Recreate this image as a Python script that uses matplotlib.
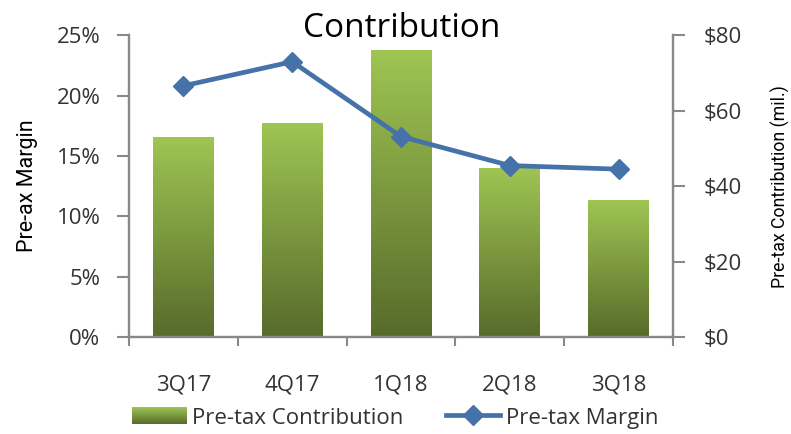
import numpy as np
import matplotlib
matplotlib.use("Agg")
import matplotlib.pyplot as plt
from matplotlib.colors import LinearSegmentedColormap
from matplotlib.legend_handler import HandlerBase
from matplotlib.image import BboxImage
from matplotlib.transforms import Bbox, TransformedBbox
from matplotlib.lines import Line2D
from matplotlib.patches import Patch

# ── Data ──────────────────────────────────────────────────────────────
quarters = ["3Q17", "4Q17", "1Q18", "2Q18", "3Q18"]
contribution = [53.0, 56.7, 76.0, 44.8, 36.3]      # $ mil (right axis)
margin = [20.8, 22.8, 16.6, 14.2, 13.9]            # % (left axis)
pct_ticks = [0, 5, 10, 15, 20, 25]
usd_ticks = [0, 20, 40, 60, 80]

FONT = "Open Sans"
NARROW = ["Roboto", "DejaVu Sans"]
plt.rcParams["font.family"] = [FONT, "DejaVu Sans"]

GREEN_TOP = "#9fc553"
GREEN_BOT = "#576b2b"
BLUE = "#4572a9"
GRAY = "#898989"
TXT = "#333333"

cmap = LinearSegmentedColormap.from_list("grn", [GREEN_BOT, GREEN_TOP])
grad = np.linspace(0, 1, 256).reshape(-1, 1)


class GradientHandler(HandlerBase):
    """Legend swatch drawn with the same vertical gradient as the bars."""

    def create_artists(self, legend, orig, xdescent, ydescent, width,
                       height, fontsize, trans):
        bb = Bbox.from_bounds(-xdescent, -ydescent, width, height)
        im = BboxImage(TransformedBbox(bb, trans), cmap=cmap,
                       interpolation="bicubic", origin="lower")
        im.set_data(grad)
        return [im]


fig = plt.figure(figsize=(7.91, 4.34), dpi=100)
ax = fig.add_axes([0.163, 0.2235, 0.688, 0.6955])
ax2 = ax.twinx()

x = np.arange(len(quarters))

# bars on right axis, filled with a gradient clipped to each bar
bars = ax2.bar(x, contribution, width=0.56, color="none", edgecolor="none")
for rect in bars:
    x0, w, h = rect.get_x(), rect.get_width(), rect.get_height()
    im = ax2.imshow(grad, cmap=cmap, origin="lower", aspect="auto",
                    extent=[x0, x0 + w, 0, h], interpolation="bicubic",
                    zorder=2)
    im.set_clip_path(rect)
ax2.set_ylim(0, 80)
ax2.set_yticks(usd_ticks)
ax2.set_yticklabels([f"${v}" for v in usd_ticks])

# line on left axis, kept above the bars
ax.set_zorder(ax2.get_zorder() + 1)
ax.patch.set_visible(False)
ax.plot(x, margin, color=BLUE, lw=3.4, marker="D", markersize=10.5,
        markeredgecolor=BLUE, zorder=3)
ax.set_ylim(0, 25)
ax.set_yticks(pct_ticks)
ax.set_yticklabels([f"{v}%" for v in pct_ticks])
ax.set_xlim(-0.5, len(quarters) - 0.5)
ax2.set_xlim(-0.5, len(quarters) - 0.5)

ax.set_xticks(x)
ax.set_xticklabels(quarters)
ax.set_xticks(np.arange(-0.5, len(quarters)), minor=True)
ax.tick_params(axis="x", which="major", length=0, pad=27, labelsize=16,
               labelcolor=TXT)
ax.tick_params(axis="x", which="minor", length=6.5, width=1.5, color=GRAY,
               direction="out")
ax.tick_params(axis="y", length=8.6, width=1.5, color=GRAY, labelsize=16,
               labelcolor=TXT, pad=12)
ax2.tick_params(axis="y", length=8.6, width=1.5, color=GRAY, labelsize=16,
                labelcolor=TXT, pad=13)

for a in (ax, ax2):
    a.spines["top"].set_visible(False)
    for side in ("left", "right", "bottom"):
        a.spines[side].set_color(GRAY)
        a.spines[side].set_linewidth(1.6)

ax.set_ylabel("Pre-ax Margin", fontsize=15.5, family=NARROW, labelpad=13)
ax2.set_ylabel("Pre-tax Contribution (mil.)", fontsize=12.8,
               family=NARROW, labelpad=21)

fig.text(0.508, 0.935, "Contribution", fontsize=24, ha="center",
         va="center", color="black")

handles = [Patch(label="Pre-tax Contribution"),
           Line2D([], [], color=BLUE, lw=3.4, marker="D", markersize=10.5,
                  label="Pre-tax Margin")]
fig.legend(handles=handles, loc="center", bbox_to_anchor=(0.5, 0.037),
           ncol=2, frameon=False, fontsize=16, handlelength=2.45,
           handleheight=0.8, columnspacing=1.9, handletextpad=0.25,
           labelcolor=TXT,
           handler_map={Patch: GradientHandler()})

fig.savefig("out.png", dpi=100)
